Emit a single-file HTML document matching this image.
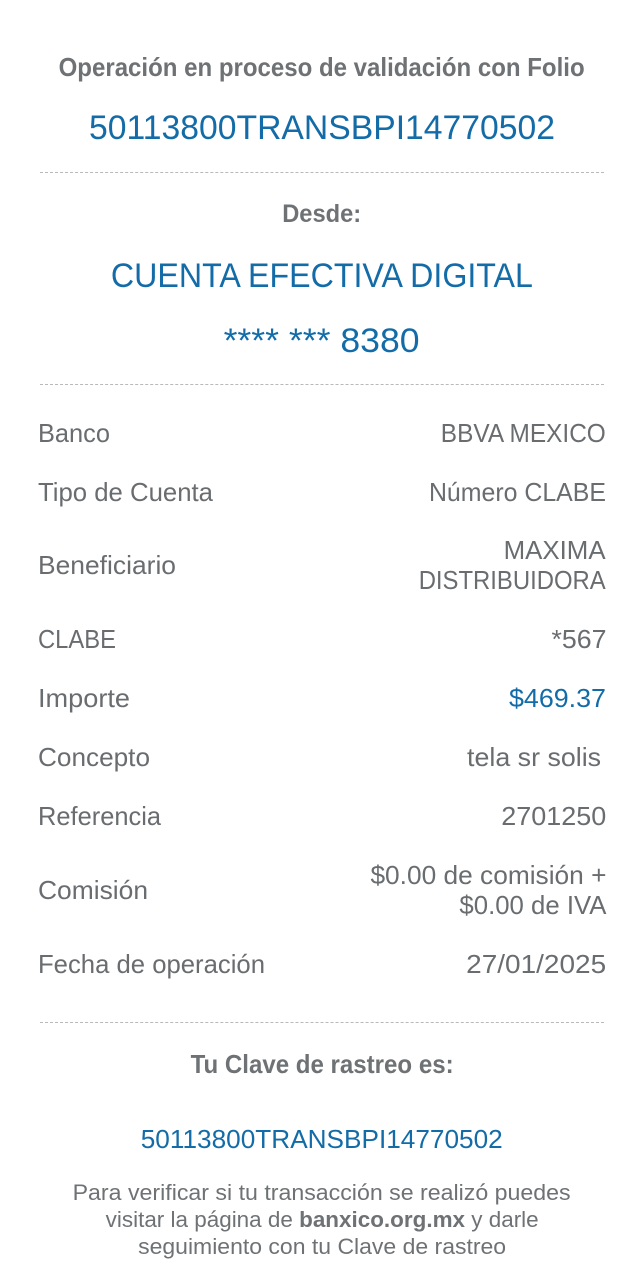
<!DOCTYPE html>
<html><head><meta charset="utf-8"><style>
html,body{margin:0;padding:0;background:#fff;width:644px;height:1261px;overflow:hidden}
body{position:relative;font-family:"Liberation Sans",Arial,sans-serif}
.r{position:absolute;white-space:nowrap}
.c{left:0;width:644px;text-align:center}
.l{left:38px}
.rt{right:38px;text-align:right}
.r span{display:inline-block}
.c span{transform-origin:center}
.l span{transform-origin:left}
.rt span{transform-origin:right}
.g{color:#6e7275}
.b{color:#136ca8}
.lab{color:#696d70;font-size:26px;line-height:26px;font-weight:500}
.hr{position:absolute;left:40px;width:564px;border-top:1px dashed #b9b9b9}
</style></head><body>
<div class="r c g" style="top:54px;font-size:26px;line-height:26px;font-weight:bold"><span style="--w:526">Operación en proceso de validación con Folio</span></div>
<div class="r c b" style="top:111px;font-size:34px;line-height:34px"><span style="--w:466">50113800TRANSBPI14770502</span></div>
<div class="hr" style="top:172px"></div>
<div class="r c g" style="top:202px;font-size:25px;line-height:25px;font-weight:bold"><span style="--w:79">Desde:</span></div>
<div class="r c b" style="top:259px;font-size:34px;line-height:34px"><span style="--w:422">CUENTA EFECTIVA DIGITAL</span></div>
<div class="r c b" style="top:324px;font-size:34px;line-height:34px"><span style="--w:196">**** *** 8380</span></div>
<div class="hr" style="top:384px"></div>

<div class="r l lab" style="top:420px"><span style="--w:72">Banco</span></div>
<div class="r rt lab" style="top:420px"><span style="--w:165">BBVA MEXICO</span></div>
<div class="r l lab" style="top:479px"><span style="--w:175">Tipo de Cuenta</span></div>
<div class="r rt lab" style="top:479px"><span style="--w:177">Número CLABE</span></div>
<div class="r l lab" style="top:552px"><span style="--w:138">Beneficiario</span></div>
<div class="r rt lab" style="top:537px"><span style="--w:102">MAXIMA</span></div>
<div class="r rt lab" style="top:567px"><span style="--w:187">DISTRIBUIDORA</span></div>
<div class="r l lab" style="top:626px"><span style="--w:78">CLABE</span></div>
<div class="r rt lab" style="top:626px"><span style="--w:55">*567</span></div>
<div class="r l lab" style="top:685px"><span style="--w:92">Importe</span></div>
<div class="r rt lab" style="top:685px;color:#136ca8"><span style="--w:97">$469.37</span></div>
<div class="r l lab" style="top:744px"><span style="--w:112">Concepto</span></div>
<div class="r rt lab" style="top:744px;right:43px"><span style="--w:134">tela sr solis</span></div>
<div class="r l lab" style="top:803px"><span style="--w:123">Referencia</span></div>
<div class="r rt lab" style="top:803px"><span style="--w:105">2701250</span></div>
<div class="r l lab" style="top:877px"><span style="--w:110">Comisión</span></div>
<div class="r rt lab" style="top:862px"><span style="--w:236">$0.00 de comisión +</span></div>
<div class="r rt lab" style="top:892px"><span style="--w:147">$0.00 de IVA</span></div>
<div class="r l lab" style="top:951px"><span style="--w:227">Fecha de operación</span></div>
<div class="r rt lab" style="top:951px"><span style="--w:140">27/01/2025</span></div>

<div class="hr" style="top:1022px"></div>
<div class="r c g" style="top:1051px;font-size:26px;line-height:26px;font-weight:bold"><span style="--w:263">Tu Clave de rastreo es:</span></div>
<div class="r c b" style="top:1126px;font-size:26px;line-height:26px"><span style="--w:362">50113800TRANSBPI14770502</span></div>
<div class="r c g" style="top:1182px;font-size:22px;line-height:22px"><span style="--w:498">Para verificar si tu transacción se realizó puedes</span></div>
<div class="r c g" style="top:1209px;font-size:22px;line-height:22px"><span style="--w:433">visitar la página de <b>banxico.org.mx</b> y darle</span></div>
<div class="r c g" style="top:1236px;font-size:22px;line-height:22px"><span style="--w:368">seguimiento con tu Clave de rastreo</span></div>
<script>
document.querySelectorAll('.r span').forEach(function(s){
  var w=parseFloat(s.style.getPropertyValue('--w'));
  var a=s.getBoundingClientRect().width;
  if(w&&a){s.style.transform='scaleX('+(w/a)+')';}
});
</script>
</body></html>
